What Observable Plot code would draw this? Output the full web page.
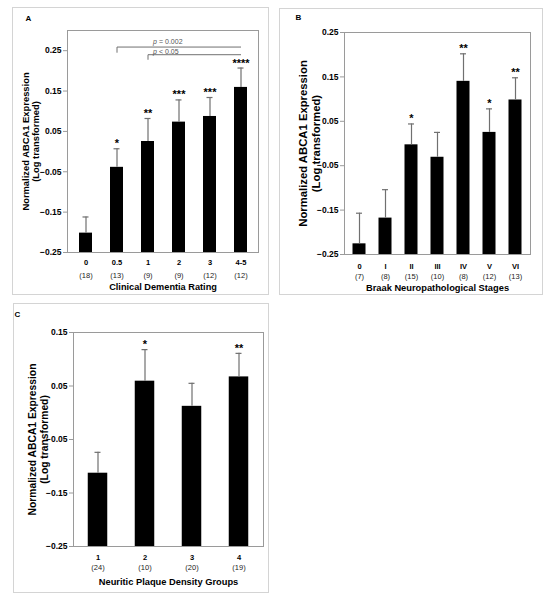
<!DOCTYPE html>
<html><head><meta charset="utf-8">
<script src="https://cdn.jsdelivr.net/npm/d3@7"></script>
<script src="https://cdn.jsdelivr.net/npm/@observablehq/plot@0.6"></script>
<style>
body{margin:0;background:#fff;}
#root{position:relative;width:545px;height:601px;overflow:hidden;}
.frame{position:absolute;border:1px solid #d4d4d4;box-sizing:border-box;pointer-events:none;}
.chart{position:absolute;}
</style></head><body><div id="root"></div>
<script>
// Panel A: Clinical Dementia Rating
const cdrCategories = ["0", "0.5", "1", "2", "3", "4-5"];
const cdrN = [18, 13, 9, 9, 12, 12];
const cdrMeans = [-0.202, -0.039, 0.025, 0.073, 0.087, 0.159];
const cdrErrors = [0.040, 0.046, 0.057, 0.055, 0.047, 0.048];
const cdrStars = ["", "*", "**", "***", "***", "****"];
const cdrTicks = [-0.25, -0.15, -0.05, 0.05, 0.15, 0.25];
// significance brackets in panel A
const cdrBrackets = [
  {from: "0.5", to: "4-5", y: 0.259, drop: 0.245, label: "= 0.002", labelY: 0.2725},
  {from: "1", to: "4-5", y: 0.240, drop: 0.2275, label: "< 0.05", labelY: 0.2485}
];

// Panel B: Braak stages
const braakCategories = ["0", "I", "II", "III", "IV", "V", "VI"];
const braakN = [7, 8, 15, 10, 8, 12, 13];
const braakMeans = [-0.226, -0.168, -0.003, -0.031, 0.140, 0.025, 0.098];
const braakErrors = [0.069, 0.064, 0.047, 0.056, 0.062, 0.053, 0.050];
const braakStars = ["", "", "*", "", "**", "*", "**"];
const braakTicks = [-0.25, -0.15, -0.05, 0.05, 0.15, 0.25];

// Panel C: Neuritic plaque density
const npCategories = ["1", "2", "3", "4"];
const npN = [24, 10, 20, 19];
const npMeans = [-0.113, 0.059, 0.012, 0.067];
const npErrors = [0.039, 0.059, 0.043, 0.044];
const npStars = ["", "*", "", "**"];
const npTicks = [-0.25, -0.15, -0.05, 0.05, 0.15];

const yTitle = "Normalized ABCA1 Expression\n(Log transformed)";
const FONT = "'Liberation Sans', Arial, Helvetica, sans-serif";
const fmt = d3.format(".2f");

function panel(cfg) {
  const data = cfg.categories.map((c, i) => ({
    cat: c, n: "(" + cfg.n[i] + ")", mean: cfg.means[i],
    upper: cfg.means[i] + cfg.errors[i], star: cfg.stars[i]
  }));
  const ymin = cfg.yDomain[0];
  const marks = [
    Plot.frame({stroke: "#9a9a9a"}),
    Plot.axisY({ticks: cfg.ticks, tickFormat: fmt, tickSize: 4, tickPadding: 2,
      stroke: "#9a9a9a", fill: "black", fontWeight: "bold", fontSize: cfg.tickFont, label: null}),
    Plot.barY(data, {x: "cat", y1: ymin, y2: "mean", fill: "black",
      insetLeft: cfg.inset, insetRight: cfg.inset}),
    Plot.ruleX(data, {x: "cat", y1: "mean", y2: "upper", stroke: "#707070", strokeWidth: 1.2}),
    Plot.tickY(data, {x: "cat", y: "upper", stroke: "#707070", strokeWidth: 1.2,
      insetLeft: cfg.capInset, insetRight: cfg.capInset}),
    Plot.text(data, {x: "cat", y: "upper", text: "star", lineAnchor: "bottom", dy: -1.5,
      fontWeight: "bold", fontSize: cfg.starFont, fill: "black"}),
    Plot.text(data, {x: "cat", y: ymin, text: "cat", dy: cfg.catDy, lineAnchor: "middle",
      fontWeight: "bold", fontSize: cfg.catFont, fill: "black"}),
    Plot.text(data, {x: "cat", y: ymin, text: "n", dy: cfg.nDy, lineAnchor: "middle",
      fontSize: cfg.catFont, fill: "#222"}),
    Plot.text([cfg.xTitle], {frameAnchor: "bottom", dy: cfg.titleDy, lineAnchor: "middle",
      fontWeight: "bold", fontSize: cfg.xTitleFont, fill: "black"}),
    Plot.text([yTitle], {frameAnchor: "left", rotate: -90, dx: cfg.yTitleDx, textAnchor: "middle",
      lineAnchor: "middle", lineHeight: 1.15, fontWeight: "bold", fontSize: cfg.yTitleFont, fill: "black"}),
    Plot.text([cfg.label], {frameAnchor: "top-left", dx: cfg.labelDx, dy: cfg.labelDy,
      textAnchor: "middle", lineAnchor: "middle", fontWeight: "bold", fontSize: 8, fill: "black"})
  ];
  if (cfg.brackets) {
    const b = cfg.brackets;
    marks.push(
      Plot.link(b, {x1: "from", x2: "to", y1: "y", y2: "y", stroke: "#707070", strokeWidth: 1}),
      Plot.link(b, {x1: "from", x2: "from", y1: "y", y2: "drop", stroke: "#707070", strokeWidth: 1}),
      Plot.text(b, {x: () => "1", y: "labelY", text: () => "p", dx: 7, fontStyle: "italic",
        fontSize: 7, fill: "#555", textAnchor: "middle"}),
      Plot.text(b, {x: () => "1", y: "labelY", text: "label", dx: 11, fontSize: 7, fill: "#555", textAnchor: "start"})
    );
  }
  const svg = Plot.plot({
    width: cfg.w, height: cfg.h,
    marginLeft: cfg.m[0], marginTop: cfg.m[1], marginRight: cfg.m[2], marginBottom: cfg.m[3],
    style: {fontFamily: FONT, background: "white", overflow: "visible"},
    x: {domain: cfg.categories, padding: 0, axis: null},
    y: {domain: cfg.yDomain, axis: null},
    marks
  });
  const root = document.getElementById("root");
  svg.classList.add("chart");
  svg.style.left = cfg.left + "px";
  svg.style.top = cfg.top + "px";
  root.appendChild(svg);
  const fr = document.createElement("div");
  fr.className = "frame";
  fr.style.left = cfg.left + "px"; fr.style.top = cfg.top + "px";
  fr.style.width = cfg.w + "px"; fr.style.height = cfg.h + "px";
  root.appendChild(fr);
}

panel({
  left: 12, top: 7, w: 257, h: 288, m: [55, 23, 11, 43],
  categories: cdrCategories, n: cdrN, means: cdrMeans, errors: cdrErrors, stars: cdrStars,
  yDomain: [-0.25, 0.30], ticks: cdrTicks, inset: 9, capInset: 12.5,
  tickFont: 8.5, starFont: 11, catFont: 7.5, xTitleFont: 9.2, yTitleFont: 9.4,
  catDy: 10, nDy: 23, titleDy: 35, yTitleDx: -37, labelDx: -39, labelDy: -12,
  label: "A", xTitle: "Clinical Dementia Rating", brackets: cdrBrackets
});
panel({
  left: 279, top: 8, w: 264, h: 287, m: [65, 24, 13, 41],
  categories: braakCategories, n: braakN, means: braakMeans, errors: braakErrors, stars: braakStars,
  yDomain: [-0.25, 0.25], ticks: braakTicks, inset: 6.5, capInset: 10,
  tickFont: 8.5, starFont: 11, catFont: 7.5, xTitleFont: 9.3, yTitleFont: 11.3,
  catDy: 12.5, nDy: 22.5, titleDy: 34, yTitleDx: -35, labelDx: -46, labelDy: -15,
  label: "B", xTitle: "Braak Neuropathological Stages"
});
panel({
  left: 13, top: 303, w: 256, h: 290, m: [60, 29, 6, 47],
  categories: npCategories, n: npN, means: npMeans, errors: npErrors, stars: npStars,
  yDomain: [-0.25, 0.15], ticks: npTicks, inset: 13.75, capInset: 20.5,
  tickFont: 8.5, starFont: 11, catFont: 7.5, xTitleFont: 9.3, yTitleFont: 10.3,
  catDy: 11, nDy: 21.5, titleDy: 36, yTitleDx: -35, labelDx: -56, labelDy: -18,
  label: "C", xTitle: "Neuritic Plaque Density Groups"
});
</script></body></html>
